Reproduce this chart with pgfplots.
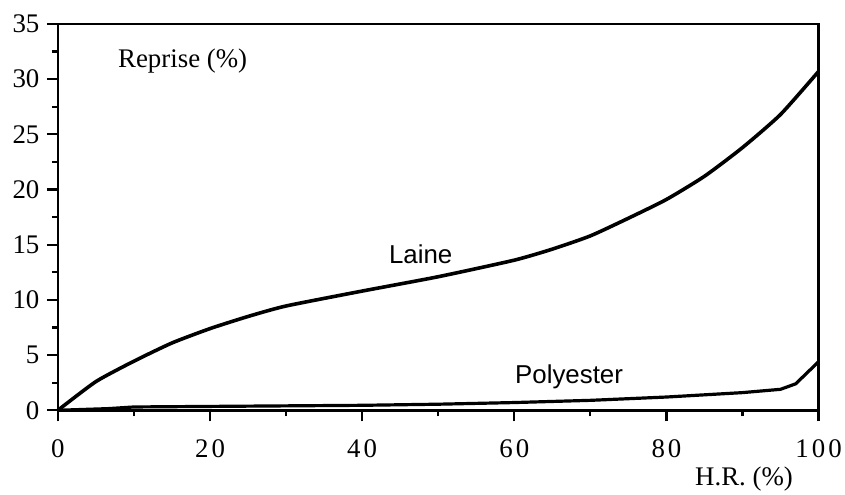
\documentclass[border=0pt]{standalone}
\usepackage{fontspec}
\setmainfont{Liberation Serif}
\newfontfamily\hv{Liberation Sans}
\usepackage{pgfplots}
\pgfplotsset{compat=1.18}
\begin{document}
\begin{tikzpicture}
\begin{axis}[
  scale only axis,
  width=762bp, height=387bp,
  xmin=0, xmax=100, ymin=0, ymax=35,
  axis line style={line width=2.6bp},
  xtick={0,20,...,100},
  xticklabels={0,2\hspace{3bp}0,4\hspace{3bp}0,6\hspace{3bp}0,8\hspace{3bp}0,1\hspace{3bp}0\hspace{3bp}0},
  minor xtick={10,30,50,70,90},
  ytick={0,5,...,35},
  minor ytick={2.5,7.5,...,32.5},
  tick align=outside,
  major tick length=11bp, minor tick length=6bp,
  every tick/.style={line width=2.2bp, black},
  xtick pos=bottom, ytick pos=left,
  tick label style={font=\fontsize{27}{30}\selectfont},
  /pgf/number format/assume math mode=true,
  xticklabel style={yshift=-15bp},
  yticklabel style={xshift=-4bp},
  clip=false,
]
\addplot[line width=3.6bp, black, smooth, tension=0.35] coordinates {
(0,0) (5,2.6) (10,4.45) (15,6.1) (20,7.4) (25,8.5) (30,9.45) (40,10.8) (50,12.1) (60,13.6) (65,14.6) (70,15.8) (75,17.4) (80,19.1) (85,21.2) (90,23.8) (95,26.8) (100,30.7)
};
\addplot[line width=3.2bp, black] coordinates {
(0,0) (6.6,0.15) (10,0.3) (20,0.35) (30,0.4) (40,0.45) (50,0.55) (60,0.7) (70,0.9) (80,1.2) (90,1.6) (95,1.9) (97,2.4) (100,4.4)
};
\node[font=\fontsize{27}{30}\selectfont] at (axis cs:16.4,31.6) {Reprise (\%)};
\node[font=\hv\fontsize{26}{30}\selectfont] at (axis cs:47.7,14.1) {Laine};
\node[font=\hv\fontsize{26}{30}\selectfont] at (axis cs:67.2,3.0) {Polyester};
\node[font=\fontsize{27}{30}\selectfont] at (axis cs:90.2,-6.2) {H.R. (\%)};
\end{axis}
\useasboundingbox (-58bp,-81bp) rectangle (787bp,411bp);
\end{tikzpicture}
\end{document}
